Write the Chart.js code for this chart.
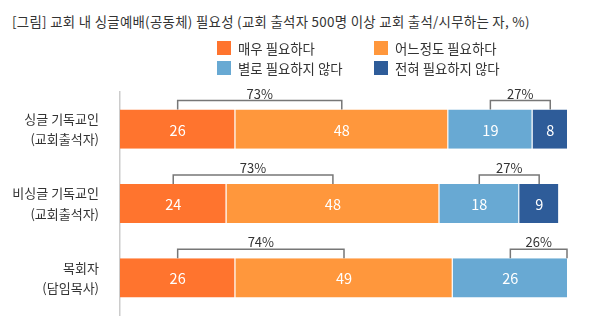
<!DOCTYPE html>
<html>
<head>
<meta charset="utf-8">
<script src="https://cdn.jsdelivr.net/npm/chart.js@4.4.1/dist/chart.umd.min.js"></script>
<style>
  body { margin: 0; background: #fff; font-family: "Noto Sans CJK KR", sans-serif; }
  #wrap { position: relative; width: 590px; height: 327px; }
  #title { position: absolute; left: 12px; top: 11px; font-size: 13.4px; letter-spacing: 0.3px; color: #333; white-space: nowrap; }
  .lg { position: absolute; font-size: 13.4px; color: #333; white-space: nowrap; line-height: 14px; }
  .lg i { position: absolute; left: -21px; top: 0; width: 14px; height: 14px; }
  canvas { position: absolute; left: 0; top: 0; }
</style>
</head>
<body>
<div id="wrap">
  <div id="title">[그림] 교회 내 싱글예배(공동체) 필요성 (교회 출석자 500명 이상 교회 출석/시무하는 자, %)</div>
  <canvas id="myBars" width="590" height="327"></canvas>
</div>
<script>
var categories = [
    ['싱글 기독교인', '(교회출석자)'],
    ['비싱글 기독교인', '(교회출석자)'],
    ['목회자', '(담임목사)']
];
var seriesNames = ['매우 필요하다', '어느정도 필요하다', '별로 필요하지 않다', '전혀 필요하지 않다'];
var seriesColors = ['#FF742E', '#FF973C', '#68A9D3', '#2E5C99'];

var veryNeeded = [26, 24, 26];
var somewhatNeeded = [48, 48, 49];
var notReally = [19, 18, 26];
var notAtAll = [8, 9, 0];

// totals printed over the brackets
var needTotals = ['73%', '73%', '74%'];
var notNeedTotals = ['27%', '27%', '26%'];

var seriesValues = [veryNeeded, somewhatNeeded, notReally, notAtAll];

// legend, two columns
var legendPos = [[238, 41], [395, 41], [238, 61], [395, 61]];
var wrap = document.getElementById('wrap');
seriesNames.forEach(function (name, i) {
    var d = document.createElement('div');
    d.className = 'lg';
    d.style.left = legendPos[i][0] + 'px';
    d.style.top = legendPos[i][1] + 'px';
    d.innerHTML = '<i style="background:' + seriesColors[i] + '"></i>' + name;
    wrap.appendChild(d);
});

var barLabels = {
    id: 'barLabels',
    afterDatasetsDraw: function (chart) {
        var c = chart.ctx;
        c.save();
        // numbers inside the segments
        c.fillStyle = '#fff';
        c.font = '14.5px "Noto Sans CJK KR"';
        c.textAlign = 'center';
        c.textBaseline = 'middle';
        chart.data.datasets.forEach(function (ds, di) {
            chart.getDatasetMeta(di).data.forEach(function (bar, i) {
                if (!ds.data[i]) return;
                c.fillText(ds.data[i], (bar.x + bar.base) / 2, bar.y + 1);
            });
        });

        // brackets above the bars
        var m0 = chart.getDatasetMeta(0).data;
        var m1 = chart.getDatasetMeta(1).data;
        var m2 = chart.getDatasetMeta(2).data;
        var m3 = chart.getDatasetMeta(3).data;
        c.strokeStyle = '#777';
        c.lineWidth = 1.5;
        c.fillStyle = '#333';
        c.font = '13px "Noto Sans CJK KR"';
        function bracket(x1, x2, top, text) {
            var ly = top - 9;
            c.beginPath();
            c.moveTo(x1, top);
            c.lineTo(x1, ly);
            c.lineTo(x2, ly);
            c.lineTo(x2, top);
            c.stroke();
            c.fillText(text, (x1 + x2) / 2, ly - 7);
        }
        for (var i = 0; i < categories.length; i++) {
            var top = m0[i].y - m0[i].height / 2;
            var a = (m0[i].x + m0[i].base) / 2;
            var b = (m1[i].x + m1[i].base) / 2;
            bracket(a, b, top, needTotals[i]);
            var cx = (m2[i].x + m2[i].base) / 2;
            var dx = notAtAll[i] ? (m3[i].x + m3[i].base) / 2 : m2[i].x - 1;
            bracket(cx, dx, top, notNeedTotals[i]);
        }
        c.restore();
    }
};

var ctx = document.getElementById('myBars');
var myBars = new Chart(ctx, {
    type: 'bar',
    data: {
        labels: categories,
        datasets: seriesValues.map(function (vals, i) {
            return {
                label: seriesNames[i],
                data: vals,
                backgroundColor: seriesColors[i],
                borderColor: 'rgba(255, 255, 255, 0.35)',
                borderWidth: { top: 0, bottom: 0, left: 0, right: 1 },
                borderSkipped: false,
                categoryPercentage: 1,
                barPercentage: 0.527
            };
        })
    },
    options: {
        indexAxis: 'y',
        responsive: false,
        animation: false,
        layout: { padding: { top: 92, bottom: 12, left: 0, right: 22 } },
        plugins: {
            legend: { display: false },
            tooltip: { enabled: false }
        },
        scales: {
            x: { stacked: true, display: false, min: 0, max: 101 },
            y: {
                stacked: true,
                afterFit: function (scale) {
                    scale.width = 120;
                    scale.paddingTop = 0;
                    scale.paddingBottom = 0;
                },
                grid: { display: false, drawTicks: false },
                border: { display: true, color: '#ccc', width: 1.5 },
                ticks: {
                    padding: 21,
                    color: '#333',
                    font: { family: '"Noto Sans CJK KR"', size: 13, lineHeight: 1.55 }
                }
            }
        }
    },
    plugins: [barLabels]
});
</script>
</body>
</html>
